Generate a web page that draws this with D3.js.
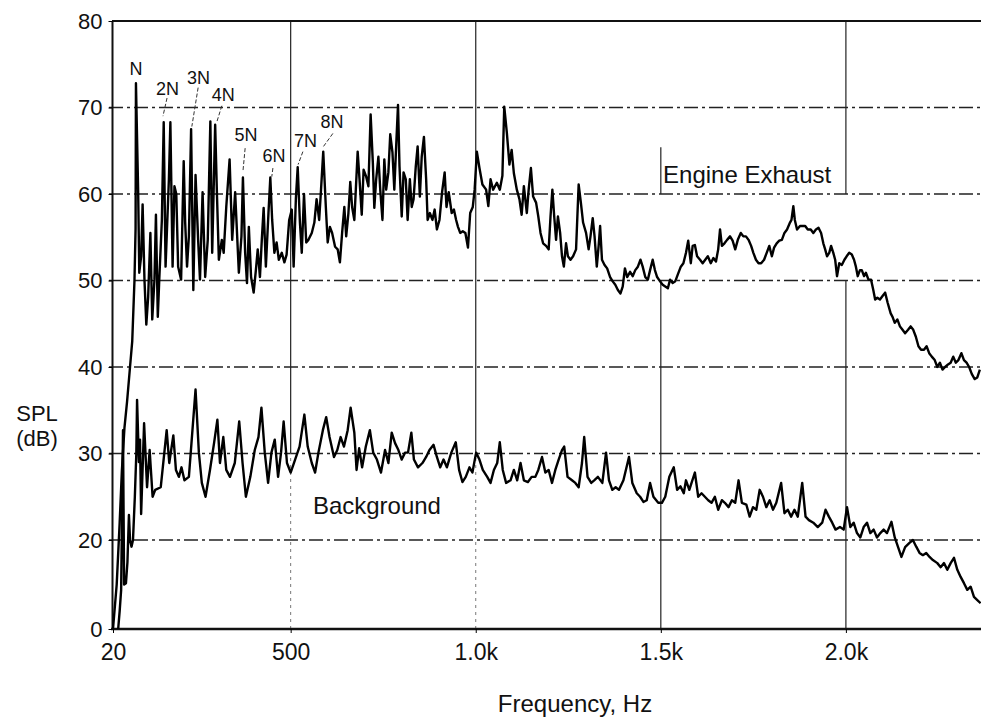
<!DOCTYPE html>
<html>
<head>
<meta charset="utf-8">
<script src="https://cdn.jsdelivr.net/npm/d3@7"></script>
<style>
body { margin: 0; background: #fff; }
text { font-family: "Liberation Sans", Arial, sans-serif; fill: #111; }
</style>
</head>
<body>
<svg width="981" height="719"></svg>
<script>
// axis ticks
var xTicks = [20, 500, 1000, 1500, 2000];
var xTickLabels = ["20", "500", "1.0k", "1.5k", "2.0k"];
var yTicks = [0, 20, 30, 40, 50, 60, 70, 80];
var gridLevels = [20, 30, 40, 50, 60, 70];

// vertical grid pieces: [Hz, dB from, dB to]
var vGridSolid = [[500, 30, 80], [1000, 30, 80], [1500, 0, 50], [1500, 60, 65.4], [2000, 60, 80], [2000, 0, 50]];
var vGridFaint = [[500, 0, 30], [1000, 0, 30]];

// harmonic annotations: label, label anchor [Hz, dB], leader [[Hz, dB], [Hz, dB]]
var harmonics = ["N", "2N", "3N", "4N", "5N", "6N", "7N", "8N"];
var harmonicAt = [[82, 73.8], [167, 71.4], [251, 72.7], [318, 70.8], [379, 66.1], [455, 63.7], [540, 65.4], [612, 67.6]];
var harmonicLeader = [null,
  [[166, 71.1], [155, 69.0]],
  [[250, 72.3], [233, 67.8]],
  [[314, 70.2], [301, 68.4]],
  [[377, 65.3], [371, 62.6]],
  [[452, 63.0], [449, 62.0]],
  [[533, 64.9], [520, 63.4]],
  [[614, 67.0], [587, 65.4]]];

var seriesNames = ["Engine Exhaust", "Background"];
var seriesLabelAt = [[1506, 61.3], [560, 23.0]];

// Engine exhaust spectrum [Hz, dB]
var exhaust = [[20,0],[30,10],[38,22],[44,28],[51,33],[58,36],[66,40],[72,43],[78,50],[81,56],[82,72.8],
[88,60.2],[91,50.9],[96,52.8],[100,58.8],[105,50.1],[110,44.9],[115,48.1],[121,55.5],[126,45.5],[132,50.1],
[136,57.6],[141,45.8],[145,50.1],[152,57],[157,68.3],[162,51.6],[171,61.7],[175,68.3],[181,51.6],[186,60.9],
[191,60],[196,51.6],[204,50.1],[211,63.8],[215,56.7],[220,51.6],[225,55.1],[231,67.5],[237,48.9],[243,62.2],
[250,54.7],[255,50.1],[262,60.2],[269,50.4],[276,54.7],[283,68.4],[288,53.2],[296,68],[301,59.7],[306,52.4],
[314,54.7],[319,53.2],[326,58.5],[335,64],[342,54.7],[350,60.2],[360,50.9],[367,55.1],[371,61.9],[377,53.2],
[382,49.7],[387,56.2],[393,50.4],[400,48.6],[406,51.2],[411,53.6],[417,50.4],[422,54.7],[427,58.4],[433,51.6],
[440,57.8],[445,61.9],[450,57],[456,53.2],[462,54.4],[468,52.4],[476,53.2],[483,52.1],[489,53],[496,57],
[503,58.2],[508,51.6],[514,59.4],[519,63.1],[525,56.7],[530,53.2],[536,60],[542,54.4],[548,54.7],[557,55.5],
[564,56.7],[570,59.4],[577,57],[582,60.5],[588,64.9],[595,58.5],[600,54.4],[606,56.2],[612,55.5],[620,53.9],
[627,53.6],[633,52.1],[639,55.5],[645,58.5],[650,55.1],[656,57.8],[661,61.4],[666,58.5],[672,57],[676,60.5],
[681,64.9],[686,61.7],[692,57.6],[697,62.8],[704,62],[710,60.9],[716,69.2],[722,63.6],[726,58.4],[731,61.7],
[737,64.3],[742,60.5],[748,57],[753,64],[758,60.5],[764,62.5],[769,66.9],[775,64.8],[780,60.5],[785,65.5],
[790,70.3],[794,63.2],[800,57.4],[805,62.5],[811,61.7],[816,57],[822,61.7],[827,58.5],[832,59.4],[838,63.2],
[843,65.5],[849,59.7],[854,64.3],[860,66.6],[866,61.7],[870,57],[876,57.8],[883,57],[889,58.2],[895,55.9],
[902,57],[909,60.2],[916,62.5],[921,58.5],[927,60.2],[935,57.8],[941,58.2],[947,57],[952,56.2],[958,55.5],
[965,55.7],[972,55.5],[979,53.8],[985,57.8],[992,58.5],[997,60.5],[1003,64.9],[1010,63],[1018,61.1],[1028,60.5],
[1034,58.6],[1040,61.7],[1047,60.5],[1057,61.3],[1065,60.5],[1072,62.1],[1077,70.1],[1084,67.1],[1091,63.4],
[1097,65.1],[1103,62.4],[1111,60.5],[1118,59.4],[1124,57.6],[1130,60.9],[1138,57.8],[1143,60.5],[1149,63],
[1155,59.7],[1163,59],[1169,57.4],[1175,55.5],[1182,54.3],[1190,54],[1197,53.6],[1202,57.4],[1207,60.5],
[1212,57.4],[1217,54.7],[1222,57.4],[1228,55.5],[1233,52.8],[1238,51.6],[1244,54.3],[1249,52.8],[1256,52.4],
[1263,52.8],[1271,53.6],[1278,61.1],[1284,59],[1290,56.7],[1298,55.5],[1305,53.6],[1310,55.1],[1316,57.2],
[1321,55.1],[1327,51.6],[1332,54],[1336,56.3],[1341,52.4],[1348,51.8],[1355,51.4],[1363,50.4],[1370,49.9],
[1377,49.5],[1384,48.9],[1391,48.5],[1397,49.3],[1403,51.4],[1409,50.4],[1417,51],[1424,50.5],[1431,51.2],
[1438,51.6],[1445,52.4],[1451,51.6],[1458,50.4],[1465,50.1],[1471,51.2],[1478,52.4],[1484,51.2],[1490,50.4],
[1498,49.9],[1505,49.5],[1512,49.3],[1519,49.1],[1525,50.1],[1532,49.7],[1539,49.9],[1546,50.7],[1554,51.6],
[1561,52],[1568,53.2],[1574,54.6],[1581,52],[1586,54],[1592,54.1],[1598,52.8],[1606,52.4],[1613,52],[1620,52.4],
[1627,52.8],[1635,52],[1642,52.6],[1649,52.2],[1655,53.6],[1660,55.9],[1665,54],[1672,54.3],[1679,54.7],
[1687,55.1],[1694,54.6],[1701,53.6],[1708,54.7],[1716,55.5],[1723,55.1],[1730,55.1],[1737,54.7],[1744,54],
[1750,53.2],[1757,52.4],[1764,52],[1771,52],[1779,52.4],[1786,53.2],[1793,54],[1800,52.8],[1806,53.8],
[1813,54.3],[1820,54.6],[1827,54.7],[1834,55.5],[1841,55.9],[1849,56.7],[1853,57],[1858,58.6],[1862,57],
[1868,55.9],[1876,56.3],[1883,56.3],[1890,56.3],[1897,55.9],[1905,55.9],[1912,55.5],[1919,55.9],[1926,56.1],
[1933,55.5],[1939,54.3],[1944,53.6],[1949,52.8],[1955,53.2],[1960,54],[1966,53.2],[1971,52.4],[1976,50.5],
[1982,52],[1989,51.8],[1996,52.4],[2002,52.8],[2009,53.2],[2016,53],[2022,52.4],[2027,51.6],[2032,50.5],
[2038,51.2],[2043,51.2],[2049,50.5],[2054,50.9],[2061,50.1],[2068,50.1],[2074,48.9],[2079,47.8],[2085,48],
[2092,47.8],[2099,48.2],[2106,48.6],[2113,47.4],[2121,46.2],[2126,45.8],[2132,45.1],[2139,45.5],[2146,44.7],
[2153,44.3],[2160,43.9],[2168,44.3],[2175,44.7],[2182,44.3],[2189,43.5],[2196,42.4],[2203,42],[2211,42],
[2218,42.4],[2225,41.6],[2232,41.2],[2240,40.8],[2247,40],[2254,40.5],[2261,39.7],[2268,40],[2276,40.3],
[2283,40.5],[2290,41.2],[2297,40.5],[2304,40.8],[2312,41.6],[2319,40.8],[2326,40.5],[2333,40],[2340,39.2],
[2348,38.6],[2355,38.8],[2362,39.7]];

// Background spectrum [Hz, dB]
var background = [[34,0],[38,4],[42,8.8],[47,32.7],[50,10],[55,10.3],[59,15],[63,22.9],[66,20],[70,18.5],
[74,20],[79,25],[83,30],[85,36.2],[90,29],[93,31.6],[96,23],[104,33.5],[112,26.1],[119,30.4],[127,25],
[134,25.8],[149,26.1],[165,32.7],[172,28.9],[183,32.1],[190,28.1],[198,27.3],[205,28.4],[213,26.9],[225,27.3],
[232,31.2],[243,37.4],[252,30.1],[260,26.6],[270,25],[282,28.1],[293,31.2],[302,33.9],[309,28.9],[318,31.9],
[326,28.1],[336,27.3],[349,28.9],[361,33.7],[370,28.9],[379,25],[391,27.3],[403,30.4],[413,31.9],[421,35.3],
[430,30.1],[439,26.6],[448,30.1],[457,31.6],[466,27.3],[474,30.1],[481,33.7],[490,28.9],[500,27.8],[512,29.3],
[524,30.8],[537,34.5],[546,30.8],[557,28.9],[566,27.8],[575,30.1],[587,32.7],[596,34.2],[605,31.9],[617,29.6],
[626,30.4],[635,31.9],[644,30.8],[654,32.7],[662,35.3],[672,32.4],[678,28.1],[685,30.6],[693,28.4],[703,30.8],
[714,32.7],[723,30.1],[733,29.3],[744,27.8],[755,30.4],[764,28.9],[773,32.4],[782,31.2],[791,30.4],[800,29.3],
[809,30.1],[817,30.1],[826,32.4],[833,29.3],[844,28.4],[856,28.9],[866,29.6],[875,30.4],[886,31],[895,29.6],
[904,28.4],[913,29.3],[922,28.4],[934,30.1],[946,31.3],[955,28.1],[964,26.7],[973,27.3],[983,28.4],[991,27.8],
[1001,30.1],[1010,29.3],[1019,28.1],[1031,27.3],[1040,26.6],[1049,28.1],[1058,28.9],[1065,31.3],[1073,28.1],
[1082,26.6],[1094,26.9],[1103,28.1],[1112,26.9],[1121,28.9],[1130,26.9],[1141,26.7],[1151,27.3],[1161,27.3],
[1169,28.1],[1179,29.6],[1188,27.8],[1197,28.1],[1206,26.6],[1215,28.1],[1224,29.3],[1233,30.4],[1239,30.8],
[1248,27.3],[1260,26.9],[1269,26.6],[1278,26.1],[1287,28.9],[1293,31.9],[1302,27.3],[1312,26.6],[1320,26.9],
[1330,27.3],[1342,26.6],[1352,30.1],[1360,26.9],[1369,25.8],[1378,26.1],[1387,25.8],[1399,26.9],[1414,29.6],
[1423,26.6],[1435,25.4],[1444,25],[1453,24.4],[1462,24.6],[1471,26.6],[1480,25],[1493,24.3],[1503,24.3],
[1512,25],[1523,27.3],[1535,28.4],[1544,25.8],[1553,26.2],[1562,25.4],[1568,26.9],[1577,25.8],[1583,26.6],
[1592,27.8],[1601,25],[1610,25.4],[1619,25],[1628,24.6],[1637,24.3],[1646,25],[1655,23.5],[1665,24.6],
[1673,24.3],[1683,23.8],[1692,24.6],[1701,24.3],[1710,26.9],[1719,24.3],[1731,24.1],[1740,22.7],[1749,23.8],
[1758,23.5],[1767,25.8],[1776,25],[1785,23.8],[1794,24.6],[1803,23.5],[1812,24.3],[1825,26.6],[1834,23.1],
[1843,23.5],[1852,22.7],[1861,23.5],[1870,22.7],[1882,26.6],[1891,22.7],[1900,22.3],[1912,22],[1924,21.5],
[1936,22],[1945,23.5],[1954,22.7],[1963,22],[1972,21.2],[1984,21.5],[1994,21.2],[2003,23.8],[2012,21.5],
[2021,22],[2030,20.8],[2039,20.3],[2048,21.5],[2057,22],[2066,20.8],[2075,21.2],[2084,20.3],[2093,20.8],
[2102,21.2],[2111,20.8],[2123,22.1],[2132,20.3],[2141,18.4],[2150,16.2],[2160,18.4],[2171,19.3],[2181,20],
[2190,18.5],[2199,17.1],[2208,16.6],[2217,17.1],[2226,16.2],[2235,15.5],[2247,14.8],[2256,13.9],[2265,14.8],
[2274,13.3],[2283,14.8],[2292,16],[2301,13.3],[2310,11.7],[2319,10.3],[2328,8.8],[2337,9.5],[2346,7.2],
[2355,6.5],[2364,5.8]];


var svg = d3.select("svg"),
    x = d3.scaleLinear().domain([20, 2365]).range([113, 981]),
    y = d3.scaleLinear().domain([0, 20, 80]).range([629, 540, 21]);

// horizontal dash-dot grid
svg.append("g").selectAll("line").data(gridLevels).enter().append("line")
    .attr("x1", 109).attr("x2", 981)
    .attr("y1", function (d) { return y(d); })
    .attr("y2", function (d) { return y(d); })
    .attr("stroke", "#222")
    .attr("stroke-width", 1.3)
    .attr("stroke-dasharray", "14,4,3,4");

// vertical grid
svg.append("g").selectAll("line").data(vGridSolid).enter().append("line")
    .attr("x1", function (d) { return x(d[0]); })
    .attr("x2", function (d) { return x(d[0]); })
    .attr("y1", function (d) { return y(d[1]); })
    .attr("y2", function (d) { return y(d[2]); })
    .attr("stroke", "#222")
    .attr("stroke-width", 1.2);

svg.append("g").selectAll("line").data(vGridFaint).enter().append("line")
    .attr("x1", function (d) { return x(d[0]); })
    .attr("x2", function (d) { return x(d[0]); })
    .attr("y1", function (d) { return y(d[1]); })
    .attr("y2", function (d) { return y(d[2]); })
    .attr("stroke", "#777")
    .attr("stroke-width", 1)
    .attr("stroke-dasharray", "3,4");

// frame
svg.append("line").attr("x1", x(20) - 1).attr("x2", 981).attr("y1", y(80)).attr("y2", y(80))
    .attr("stroke", "#111").attr("stroke-width", 2);
svg.append("line").attr("x1", x(20) - 0.5).attr("x2", x(20) - 0.5).attr("y1", y(80)).attr("y2", y(0))
    .attr("stroke", "#111").attr("stroke-width", 2);
svg.append("line").attr("x1", x(20) - 2).attr("x2", 981).attr("y1", y(0)).attr("y2", y(0))
    .attr("stroke", "#111").attr("stroke-width", 2.6);

// axes
var yAxis = svg.append("g")
    .attr("transform", "translate(" + (x(20) - 0.5) + ",0)")
    .call(d3.axisLeft(y).tickValues(yTicks).tickSize(4).tickPadding(6));
yAxis.select(".domain").remove();
yAxis.selectAll("text").style("font-size", "22px");

var xAxis = svg.append("g")
    .attr("transform", "translate(0," + y(0) + ")")
    .call(d3.axisBottom(x).tickValues(xTicks).tickSize(4).tickPadding(11)
      .tickFormat(function (d, i) { return xTickLabels[i]; }));
xAxis.select(".domain").remove();
xAxis.selectAll("text").style("font-size", "23px");

// series
var line = d3.line()
    .x(function (d) { return x(d[0]); })
    .y(function (d) { return y(d[1]); });

[exhaust, background].forEach(function (s) {
  svg.append("path")
      .datum(s)
      .attr("d", line)
      .attr("fill", "none")
      .attr("stroke", "#000")
      .attr("stroke-width", 2.4)
      .attr("stroke-linejoin", "round");
});

// harmonic labels and leaders
svg.append("g").selectAll("text").data(harmonics).enter().append("text")
    .attr("x", function (d, i) { return x(harmonicAt[i][0]); })
    .attr("y", function (d, i) { return y(harmonicAt[i][1]); })
    .attr("text-anchor", "middle")
    .style("font-size", "18px")
    .text(function (d) { return d; });

svg.append("g").selectAll("line").data(harmonicLeader.filter(function (d) { return d; })).enter().append("line")
    .attr("x1", function (d) { return x(d[0][0]); })
    .attr("y1", function (d) { return y(d[0][1]); })
    .attr("x2", function (d) { return x(d[1][0]); })
    .attr("y2", function (d) { return y(d[1][1]); })
    .attr("stroke", "#333")
    .attr("stroke-width", 1)
    .attr("stroke-dasharray", "4,2");

// series labels
svg.append("g").selectAll("text").data(seriesNames).enter().append("text")
    .attr("x", function (d, i) { return x(seriesLabelAt[i][0]); })
    .attr("y", function (d, i) { return y(seriesLabelAt[i][1]); })
    .style("font-size", "24px")
    .text(function (d) { return d; });

// axis titles
svg.append("text").attr("x", 37).attr("y", 421).attr("text-anchor", "middle")
    .style("font-size", "22px").text("SPL");
svg.append("text").attr("x", 37).attr("y", 446).attr("text-anchor", "middle")
    .style("font-size", "22px").text("(dB)");
svg.append("text").attr("x", 575).attr("y", 712).attr("text-anchor", "middle")
    .style("font-size", "24px").text("Frequency, Hz");
</script>
</body>
</html>
